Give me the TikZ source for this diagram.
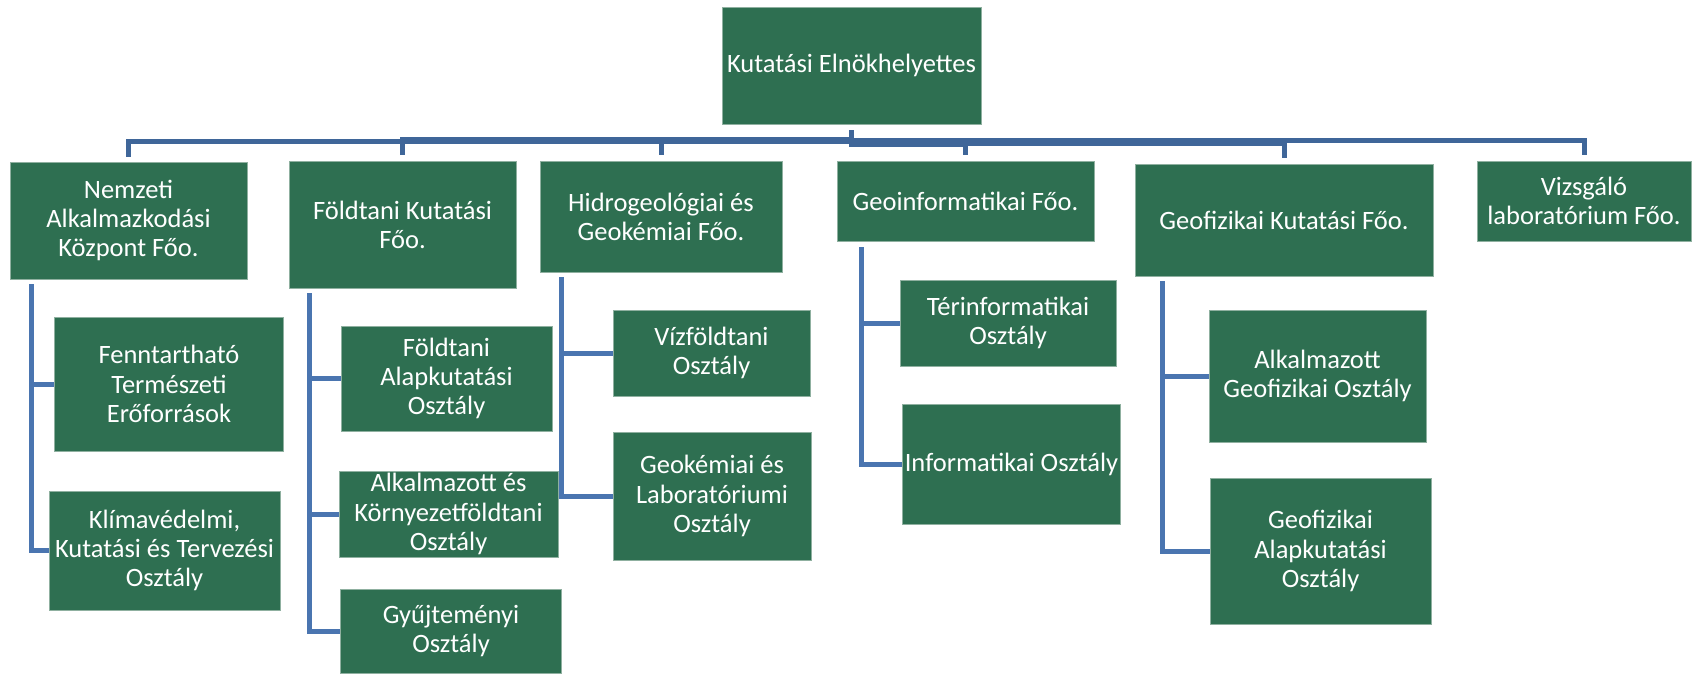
\documentclass[tikz,border=0pt]{standalone}
\usepackage{fontspec}
\setmainfont{Carlito}
\definecolor{boxgreen}{HTML}{2E6F51}
\definecolor{boxedge}{HTML}{8FB0A0}
\definecolor{linkblue}{HTML}{4A75B0}
\definecolor{busblue}{HTML}{3F6699}
\begin{document}
\begin{tikzpicture}[x=1pt,y=-1pt,
  orgbox/.style={draw=boxedge,line width=0.8pt,fill=boxgreen,text=white,inner sep=0pt,align=center,
    font=\fontsize{26.5}{29.2}\selectfont},
  bus/.style={draw=busblue,line width=5pt},
  conn/.style={draw=linkblue,line width=5pt}]
\useasboundingbox (0,0) rectangle (1693,673);
% top
\node[orgbox,minimum width=259pt,minimum height=117pt] (top) at (851.5,65.5) {Kutatási Elnökhelyettes};
% level 1
\node[orgbox,minimum width=237pt,minimum height=117pt] (nemz) at (128.5,220.5) {Nemzeti\\Alkalmazkodási\\Központ Főo.};
\node[orgbox,minimum width=227pt,minimum height=127pt] (foldt) at (402.5,224.5) {Földtani Kutatási\\Főo.};
\node[orgbox,minimum width=242pt,minimum height=111pt] (hidro) at (661,216.5) {Hidrogeológiai és\\Geokémiai Főo.};
\node[orgbox,minimum width=257pt,minimum height=80pt] (geoinf) at (965.5,201) {Geoinformatikai Főo.};
\node[orgbox,minimum width=298pt,minimum height=112pt] (geofiz) at (1284,220) {Geofizikai Kutatási Főo.};
\node[orgbox,minimum width=214pt,minimum height=80pt] (vizsg) at (1584,201) {Vizsgáló\\laboratórium Főo.};
% level 2
\node[orgbox,minimum width=228.5pt,minimum height=134pt] (fennt) at (169,384) {Fenntartható\\Természeti\\Erőforrások};
\node[orgbox,minimum width=231pt,minimum height=119pt] (klima) at (164.5,550.5) {Klímavédelmi,\\Kutatási és Tervezési\\Osztály};
\node[orgbox,minimum width=211pt,minimum height=105pt] (falap) at (446.5,378.5) {Földtani\\Alapkutatási\\Osztály};
\node[orgbox,minimum width=219pt,minimum height=86pt] (alkk) at (448.5,514) {Alkalmazott és\\Környezetföldtani\\Osztály};
\node[orgbox,minimum width=220.5pt,minimum height=84pt] (gyujt) at (451,631) {Gyűjteményi\\Osztály};
\node[orgbox,minimum width=197pt,minimum height=86pt] (vizf) at (711.5,353) {Vízföldtani\\Osztály};
\node[orgbox,minimum width=198pt,minimum height=128pt] (geokem) at (712,496) {Geokémiai és\\Laboratóriumi\\Osztály};
\node[orgbox,minimum width=216pt,minimum height=86pt] (terinf) at (1008,323) {Térinformatikai\\Osztály};
\node[orgbox,minimum width=217.5pt,minimum height=120pt] (inform) at (1011.5,464) {Informatikai Osztály};
\node[orgbox,minimum width=217pt,minimum height=132pt] (alkgf) at (1317.5,376) {Alkalmazott\\Geofizikai Osztály};
\node[orgbox,minimum width=221pt,minimum height=146pt] (gfalap) at (1320.5,551) {Geofizikai\\Alapkutatási\\Osztály};
% bus from top
\coordinate (topc) at (851.5,130);
\draw[bus] (topc) -- ++(0,11.5) -| ([yshift=5pt]nemz.north);
\draw[bus] (topc) -- ++(0,9.5) -| ([yshift=6pt]foldt.north);
\draw[bus] (topc) -- ++(0,9.5) -| ([yshift=6pt]hidro.north);
\draw[bus] (topc) -- ++(0,14) -| ([yshift=6pt]geoinf.north);
\draw[bus] (topc) -- ++(0,13.5) -| ([yshift=6pt]geofiz.north);
\draw[bus] (topc) -- ++(0,10) -| ([yshift=6pt]vizsg.north);
% spines
\coordinate (s1) at (31,284);
\coordinate (s2) at (309.5,293);
\coordinate (s3) at (561.5,277);
\coordinate (s4) at (861,247);
\coordinate (s5) at (1162,281);
\draw[conn] (s1) |- (fennt.west);
\draw[conn] (s1) |- (klima.west);
\draw[conn] (s2) |- (falap.west);
\draw[conn] (s2) |- (alkk.west);
\draw[conn] (s2) |- (gyujt.west);
\draw[conn] (s3) |- (vizf.west);
\draw[conn] (s3) |- (geokem.west);
\draw[conn] (s4) |- (terinf.west);
\draw[conn] (s4) |- (inform.west);
\draw[conn] (s5) |- (alkgf.west);
\draw[conn] (s5) |- (gfalap.west);
\end{tikzpicture}
\end{document}
